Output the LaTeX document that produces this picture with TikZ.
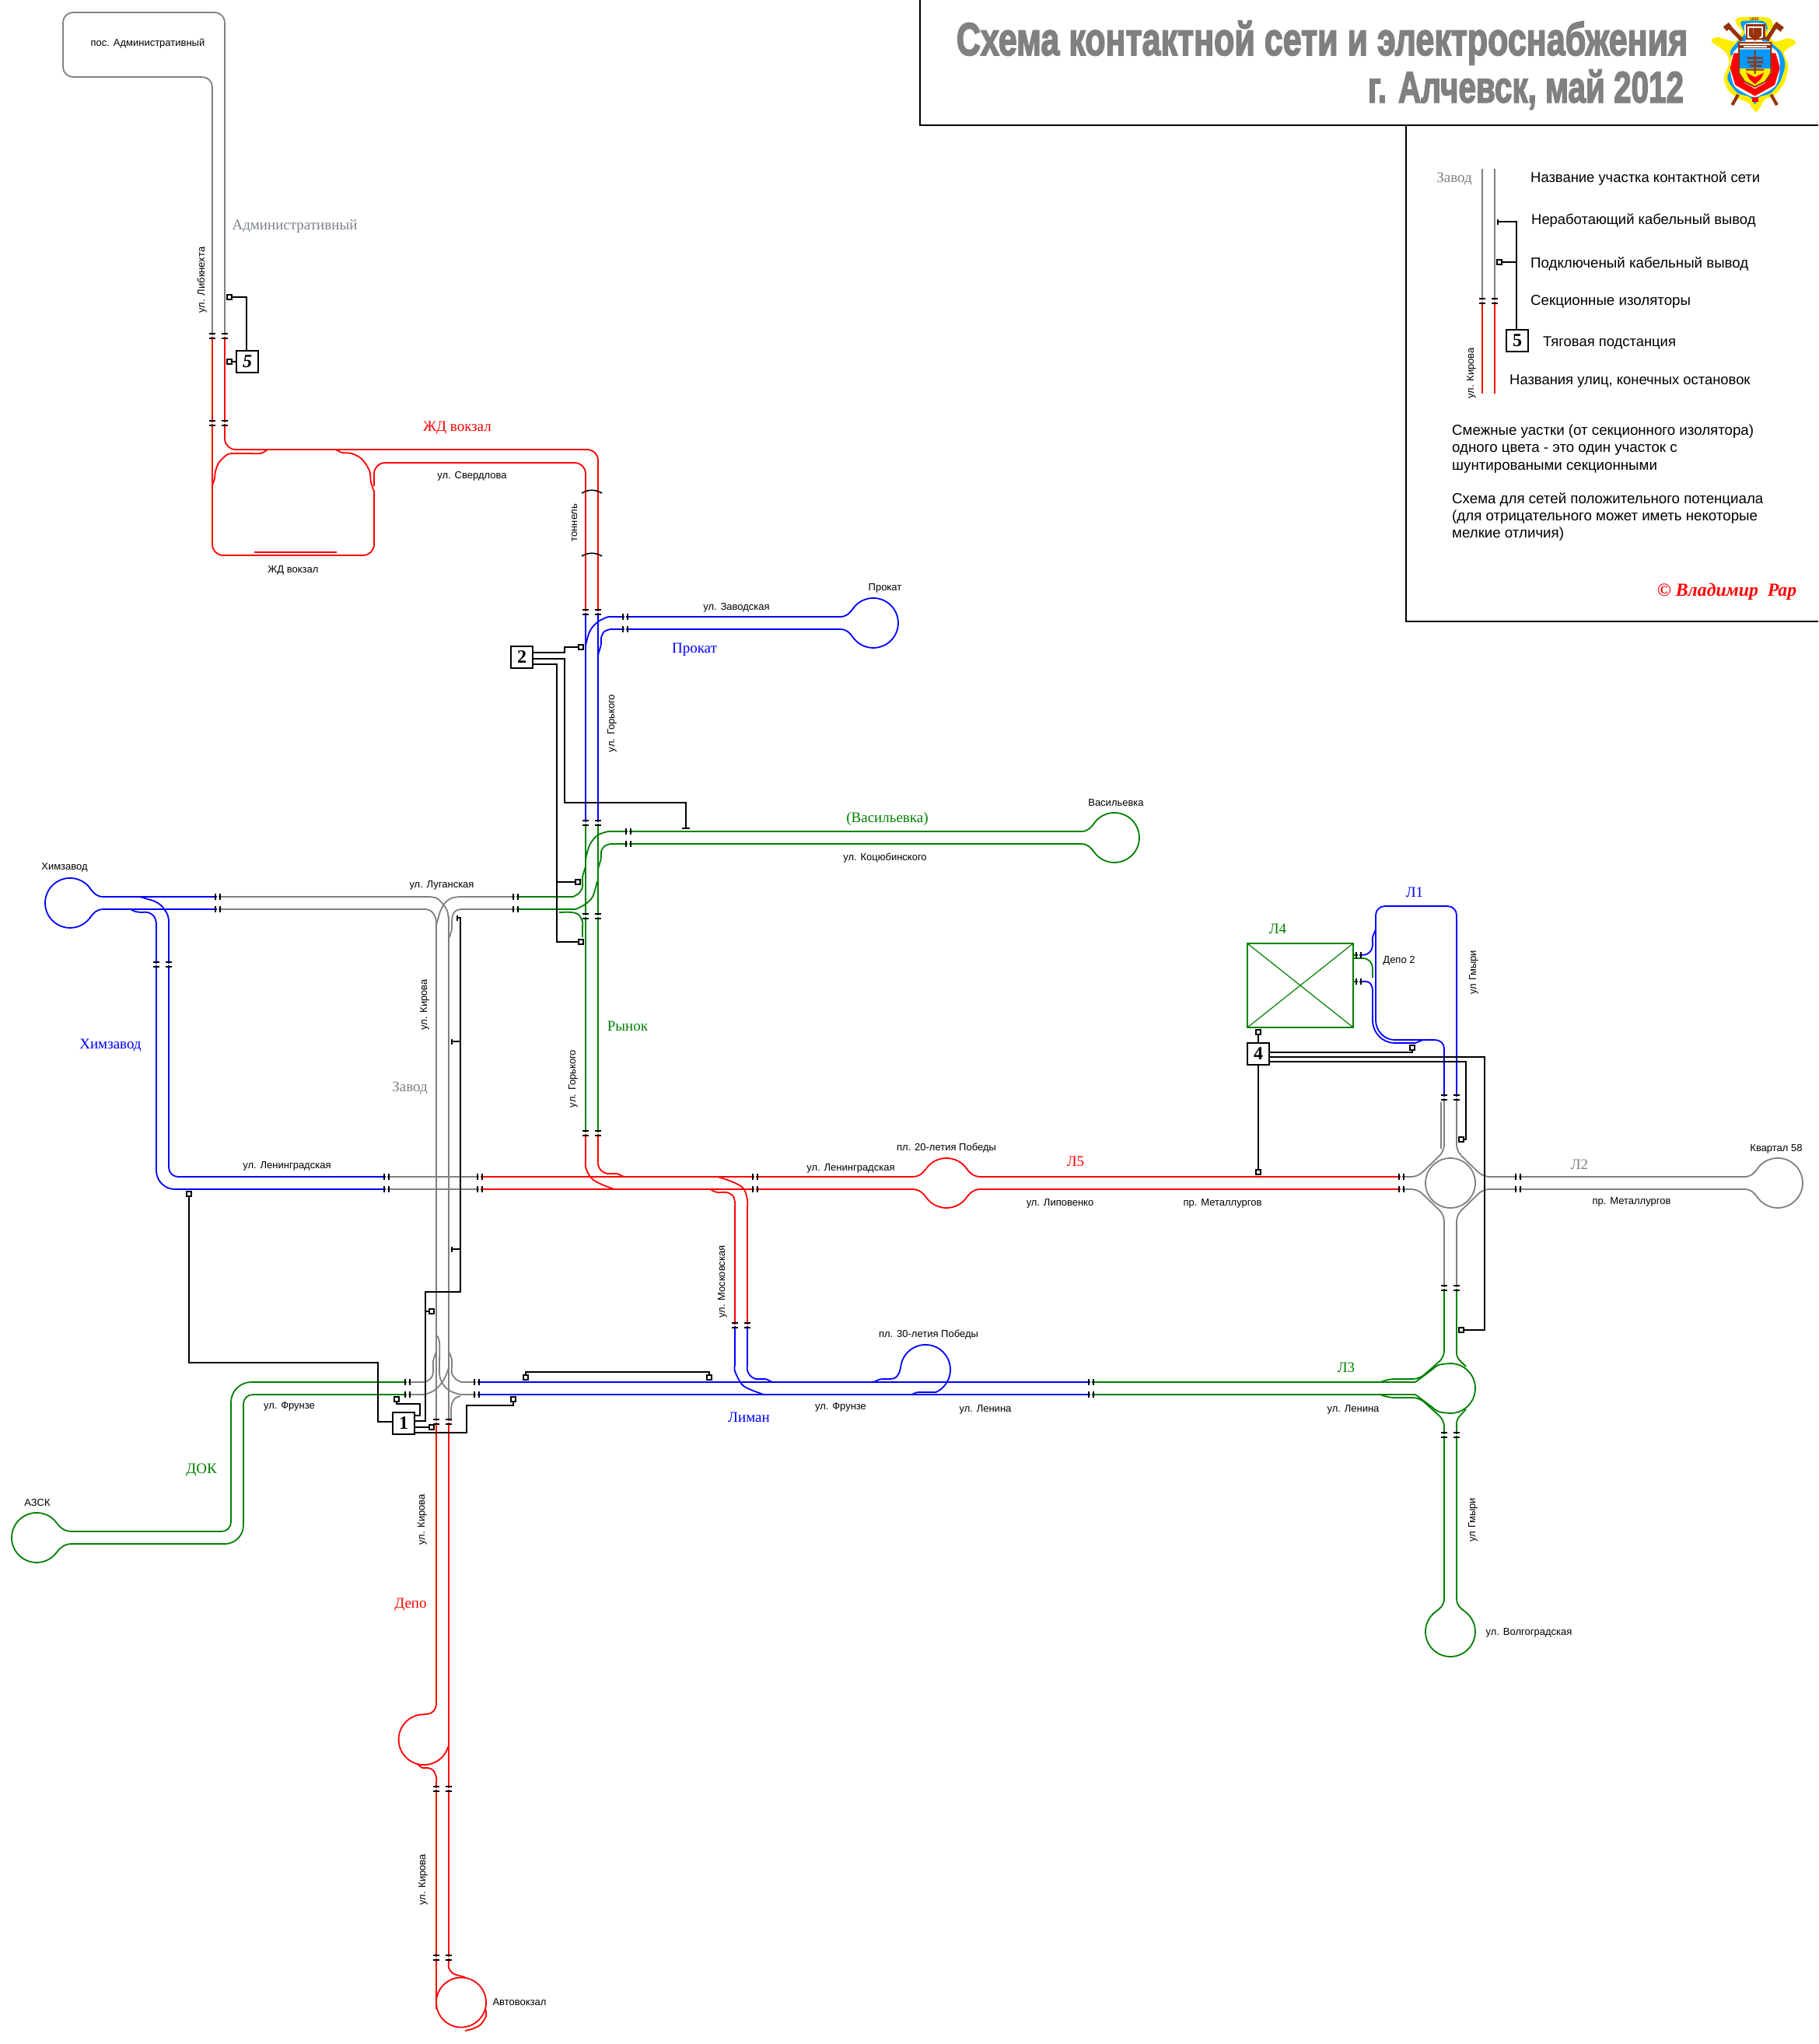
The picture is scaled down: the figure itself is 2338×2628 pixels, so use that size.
\documentclass[tikz,border=0pt]{standalone}
\usepackage{fontspec}
\usepackage{graphicx}
\setmainfont{Liberation Sans}
\newfontfamily\serf{Liberation Serif}
\newfontfamily\ttlfont[FakeBold=3.2]{Liberation Sans}
\definecolor{tR}{RGB}{255,0,0}
\definecolor{tB}{RGB}{0,0,255}
\definecolor{tG}{RGB}{0,128,0}
\definecolor{tK}{RGB}{128,128,128}
\definecolor{brn}{RGB}{150,50,10}
\definecolor{skyb}{RGB}{0,153,255}
\definecolor{slat}{RGB}{125,130,145}
\tikzset{
 tr/.style={line width=1.8pt,line join=round},
 trR/.style={tr,draw=tR},trB/.style={tr,draw=tB},trG/.style={tr,draw=tG},trK/.style={tr,draw=tK},
 wire/.style={line width=1.7pt,draw=black,line join=miter},
 term/.style={draw=black,fill=white,line width=1.7pt,minimum size=6pt,inner sep=0pt,outer sep=0pt,rectangle},
 subst/.style={draw=black,fill=white,line width=2pt,minimum width=28pt,minimum height=28pt,inner sep=0pt,outer sep=0pt,font=\serf\bfseries\fontsize{24}{24}\selectfont},
 lbl/.style={inner sep=0pt,font=\fontsize{13}{13}\selectfont,text height=12pt,text depth=2pt},
 sec/.style={inner sep=0pt,font=\serf\fontsize{19}{19}\selectfont,text height=16pt,text depth=2.6pt},
 leg/.style={inner sep=0pt,anchor=west,font=\fontsize{18.4}{18.4}\selectfont,text height=15pt,text depth=2.6pt},
 legp/.style={leg,font=\fontsize{18.7}{18.7}\selectfont},
 iso/.style={line width=2pt,draw=black},
}
\newcommand\cvv[2]{\draw[#1] plot[smooth,tension=0.55] coordinates {#2};}
\newcommand\isoV[2]{\fill[white] ({#1-2},{#2-1.4}) rectangle ({#1+2},{#2+1.4});\draw[iso] ({#1-3.6},{#2-2.6}) -- ({#1+3.6},{#2-2.6}) ({#1-3.6},{#2+2.6}) -- ({#1+3.6},{#2+2.6});}
\newcommand\isoH[2]{\fill[white] ({#1-1.4},{#2-2}) rectangle ({#1+1.4},{#2+2});\draw[iso] ({#1-2.6},{#2-3.6}) -- ({#1-2.6},{#2+3.6}) ({#1+2.6},{#2-3.6}) -- ({#1+2.6},{#2+3.6});}
\newcommand\tickV[2]{\draw[wire] (#1,{#2-3.5}) -- (#1,{#2+3.5});}
\newcommand\balR[2]{-- ({#1-43},{#2-8}) .. controls ({#1-34},{#2-8}) and ({#1-30},{#2-13}) .. ({#1-25.6},{#2-19.3}) arc[start angle=-143,end angle=143,radius=32] .. controls ({#1-30},{#2+13}) and ({#1-34},{#2+8}) .. ({#1-43},{#2+8})}
\newcommand\balL[2]{-- ({#1+43},{#2-8}) .. controls ({#1+34},{#2-8}) and ({#1+30},{#2-13}) .. ({#1+25.6},{#2-19.3}) arc[start angle=-37,end angle=-323,radius=32] .. controls ({#1+30},{#2+13}) and ({#1+34},{#2+8}) .. ({#1+43},{#2+8})}
\newcommand\balU[2]{-- ({#1-8},{#2-43}) .. controls ({#1-8},{#2-34}) and ({#1-13},{#2-30}) .. ({#1-19.3},{#2-25.6}) arc[start angle=-127,end angle=-413,radius=32] .. controls ({#1+13},{#2-30}) and ({#1+8},{#2-34}) .. ({#1+8},{#2-43})}
\begin{document}
\begin{tikzpicture}[x=1pt,y=1pt,yscale=-1]
\useasboundingbox (0,0) rectangle (2338,2628);
\fill[white] (0,0) rectangle (2338,2628);

% frames
\draw[line width=2pt] (1183,0) -- (1183,161) -- (2338,161);
\draw[line width=2pt] (1808,161) -- (1808,799) -- (2338,799);

% title
\node[inner sep=0pt,text=tK] (ttl1) at (1700,55) {\resizebox{940pt}{44pt}{\ttlfont\bfseries Схема контактной сети и электроснабжения}};
\node[inner sep=0pt,text=tK] (ttl2) at (1962,115) {\resizebox{406pt}{42pt}{\ttlfont\bfseries г. Алчевск, май 2012}};

% coat of arms
\begin{scope}[shift={(2190,10)},scale=0.3333]
\fill[yellow!95!orange] plot[smooth cycle,tension=0.5] coordinates {(135,38)(250,38)(270,70)(250,95)(275,130)(330,118)(358,135)(312,172)(328,222)(312,292)(270,342)(240,352)(205,402)(175,367)(128,347)(93,312)(80,270)(100,212)(85,170)(33,130)(55,113)(125,130)(150,90)(130,65)};
\fill[skyb] plot[smooth cycle,tension=0.5] coordinates {(150,52)(232,52)(248,80)(236,102)(268,140)(302,172)(316,222)(296,286)(260,330)(216,344)(200,372)(180,344)(135,330)(105,296)(94,266)(116,210)(104,170)(125,140)(160,100)(150,75)};
\fill[white] plot[smooth cycle,tension=0.5] coordinates {(165,62)(235,62)(240,100)(225,125)(285,170)(296,230)(280,300)(225,335)(200,345)(170,335)(120,300)(104,230)(118,170)(165,125)(160,95)};
\fill[tR] (118,175) -- (280,175) -- (296,232) -- (276,298) -- (200,340) -- (124,298) -- (104,232) -- cycle;
\fill[white] (140,130) -- (260,130) -- (265,250) -- (240,290) -- (200,312) -- (160,290) -- (135,250) -- cycle;
\fill[skyb] (140,160) -- (262,160) -- (262,235) -- (138,235) -- cycle;
\fill[yellow!95!orange] (138,235) -- (262,235) -- (262,252) -- (240,285) -- (200,305) -- (160,285) -- (138,252) -- cycle;
\draw[brn,line width=2pt] (138,135) -- (262,135) -- (262,252) -- (240,285) -- (200,305) -- (160,285) -- (138,252) -- cycle;
\fill[brn] (140,143) rectangle (260,157);
\fill[white] (155,147) rectangle (245,153);
\fill[tR] (165,250) -- (200,268) -- (235,250) -- (222,275) -- (200,295) -- (178,275) -- cycle;
\fill[brn] (197,165) rectangle (203,255) (170,190) rectangle (230,198) (170,206) rectangle (232,214) (180,220) rectangle (225,228) (165,236) rectangle (235,242);
\draw[brn,line width=2.5pt] (168,68) rectangle (235,120);
\draw[brn,line width=5pt] (185,78) -- (185,105) -- (201,118) -- (217,105) -- (217,78) (201,78) -- (201,118);
\draw[brn,line width=5pt] (95,68) -- (150,125) (280,70) -- (245,125);
\draw[brn,line width=7pt] (84,82) -- (105,65) (276,62) -- (305,84);
\draw[brn,line width=4pt] (135,335) -- (112,375) (262,335) -- (285,375);
\fill[tR] (190,345) rectangle (212,362);
\node[inner sep=0pt,text=brn,font=\bfseries\fontsize{5.5}{5.5}\selectfont] (coat) at (197,45) {1896};
\end{scope}

% ---------- Administrative and station section
\draw[trK,rounded corners=13] (273,432) -- (273,99) -- (81,99) -- (81,16) -- (289,16) -- (289,432);
\draw[trR,rounded corners=14] (273,432) -- (273,714) -- (481,714) -- (481,630);
\draw[trR,rounded corners=14] (289,432) -- (289,578) -- (769,578) -- (769,787);
\draw[trR,rounded corners=14] (481,625) -- (481,595) -- (753,595) -- (753,787);
\cvv{trR}{(273,624)(276,615)(277,606)(282,594)(293,584)(303,583)(320,583)(335,583)(344,578)}
\cvv{trR}{(432,578)(440,582)(452,583)(465,590)(475,605)(477,620)(481,632)}
\draw[trR] (327,710) -- (433,710);
% tunnel
\draw[line width=1.6pt] (748,634) .. controls (757,629) and (765,629) .. (774,634);
\draw[line width=1.6pt] (748,715) .. controls (757,710) and (765,710) .. (774,715);

% ---------- Gorky street
\draw[trB] (753,787) -- (753,1058) (769,787) -- (769,1058);
\draw[trG] (753,1058) -- (753,1457) (769,1058) -- (769,1457);
% Prokat
\draw[trB] (782,793) \balR{1123}{801} -- (785,809);
\cvv{trB}{(753,830)(757,815)(762,806)(771,798)(782,793)}
\cvv{trB}{(769,842)(773,828)(773,820)(777,812)(785,809)}
% Vasilievka
\draw[trG] (782,1069) \balR{1433}{1077} -- (785,1085);
\cvv{trG}{(753,1105)(758,1087)(768,1074)(782,1069)}
\cvv{trG}{(769,1117)(773,1103)(773,1095)(777,1088)(785,1085)}
\draw[trG] (663,1153) -- (737,1153) (663,1169) -- (740,1169);
\cvv{trG}{(737,1153)(745,1148)(749,1140)(749,1128)(753,1114)}
\cvv{trG}{(740,1169)(752,1163)(762,1153)(768,1133)}
\cvv{trG}{(719,1173)(735,1173)(744,1176)(749,1185)(749,1192)}
\draw[trG] (749,1190) -- (749,1205);

% ---------- Lugansk street, Zavod
\draw[trK] (280,1153) -- (552,1153) (280,1169) -- (548,1169) (590,1153) -- (663,1153) (593,1169) -- (663,1169);
\draw[trK] (577,1178) -- (577,1828) (561,1187) -- (561,1828);
\cvv{trK}{(552,1153)(562,1155)(570,1163)(575,1171)(577,1182)}
\cvv{trK}{(548,1169)(555,1172)(560,1180)(561,1190)}
\cvv{trK}{(590,1153)(580,1155)(572,1161)(566,1172)(561,1190)}
\cvv{trK}{(593,1169)(586,1171)(582,1177)(581,1188)(581,1195)(577,1207)}
% lower junction
\cvv{trK}{(547,1777)(554,1772)(557,1765)(557,1750)(561,1738)}
\cvv{trK}{(546,1793)(558,1788)(568,1778)(574,1767)(577,1758)}
\cvv{trK}{(593,1777)(586,1773)(581,1765)(581,1748)(577,1738)}
\cvv{trK}{(592,1793)(580,1789)(572,1783)(566,1772)(565,1760)(565,1725)(561,1717)}
\cvv{trK}{(592,1795)(585,1798)(581,1805)(580,1813)(580,1827)}
\draw[trK] (524,1777) -- (547,1777) (524,1793) -- (546,1793) (593,1777) -- (613,1777) (592,1793) -- (613,1793);

% ---------- Khimzavod
\draw[trB] (280,1153) \balL{90}{1161} -- (280,1169);
\cvv{trB}{(180,1153)(190,1156)(197,1158)(207,1164)(215,1175)(217,1184)}
\cvv{trB}{(168,1169)(174,1172)(182,1173)(190,1173)(198,1178)(201,1187)}
\draw[trB,rounded corners=12] (217,1182) -- (217,1513) -- (497,1513);
\draw[trB,rounded corners=24] (201,1185) -- (201,1529) -- (497,1529);
\draw[trK] (497,1513) -- (617,1513) (497,1529) -- (617,1529);

% ---------- L5 red main
\draw[trR] (617,1513) -- (1173,1513) .. controls (1183,1513) and (1188,1507) .. (1193.2,1499.6) arc[start angle=-138,end angle=-42,radius=32] .. controls (1246,1507) and (1251,1513) .. (1261,1513) -- (1802,1513);
\draw[trR] (617,1529) -- (1173,1529) .. controls (1183,1529) and (1188,1535) .. (1193.2,1542.4) arc[start angle=138,end angle=42,radius=32] .. controls (1246,1535) and (1251,1529) .. (1261,1529) -- (1802,1529);
\cvv{trR}{(769,1457)(769,1490)(769,1497)(773,1505)(781,1509)(793,1509)(802,1513)}
\cvv{trR}{(753,1457)(753,1490)(753,1500)(757,1510)(763,1517)(774,1523)(790,1529)}
\cvv{trR}{(923,1513)(943,1520)(956,1528)(961,1542)(961,1552)}
\cvv{trR}{(913,1529)(922,1533)(934,1533)(942,1537)(945,1545)(945,1552)}
\draw[trR] (961,1550) -- (961,1704) (945,1550) -- (945,1704);

% ---------- Liman
\draw[trB] (945,1704) -- (945,1755) (961,1704) -- (961,1755);
\cvv{trB}{(945,1755)(945,1763)(954,1780)(966,1787)(982,1793)}
\cvv{trB}{(961,1755)(961,1762)(965,1769)(972,1773)(984,1773)(993,1777)}
\draw[trB] (613,1777) -- (1403,1777) (613,1793) -- (1403,1793);
\draw[trB] (1123,1777) .. controls (1128,1775) and (1130,1773) .. (1136,1773) -- (1145,1773) .. controls (1152,1773) and (1157,1768) .. (1158.5,1755.4) arc[start angle=-170,end angle=65,radius=32] -- (1182,1790) .. controls (1178,1790) and (1176,1791) .. (1173,1793);
% DOK
\draw[trG,rounded corners=12] (90,1969) -- (297,1969) -- (297,1900);
\draw[trG,rounded corners=26] (297,1920) -- (297,1777) -- (524,1777);
\draw[trG,rounded corners=24] (90,1985) -- (313,1985) -- (313,1900);
\draw[trG,rounded corners=12] (313,1920) -- (313,1793) -- (524,1793);
\draw[trG] (92,1969) .. controls (83,1969) and (77,1964) .. (72.6,1957.7) arc[start angle=-37,end angle=-323,radius=32] .. controls (77,1990) and (83,1985) .. (92,1985);

% ---------- Depo, Avtovokzal
\draw[trR] (577,1828) -- (577,2525);
\draw[trR] (561,1828) -- (561,2190) .. controls (561,2199) and (555,2204) .. (548,2204) -- (540,2204.5) arc[start angle=-99,end angle=-344,radius=32.5];
\cvv{trR}{(537,2268)(543,2273)(550,2273)(557,2276)(561,2285)(561,2292)}
\draw[trR] (561,2290) -- (561,2583);
\draw[trR] (593,2574.5) circle[radius=32];
\cvv{trR}{(577,2522)(577,2530)(582,2537)(590,2540)(598,2542)}
\cvv{trR}{(624,2582)(625,2592)(618,2603)(609,2608)(598,2611)}

% ---------- right side
\draw[trK,rounded corners=8] (1802,1513) -- (1823,1513) -- (1857,1480) -- (1857,1411);
\draw[trK,rounded corners=8] (1802,1529) -- (1823,1529) -- (1857,1562) -- (1857,1656);
\draw[trK,rounded corners=8] (1952,1513) -- (1907,1513) -- (1873,1480) -- (1873,1411);
\draw[trK,rounded corners=8] (1952,1529) -- (1907,1529) -- (1873,1562) -- (1873,1656);
\draw[trK] (1865,1521) circle[radius=32];
\draw[trK] (1853,1417) -- (1853,1477);
\draw[trK] (1952,1513) \balR{2286}{1521} -- (1952,1529);
% L3 junction
\draw[trG] (1403,1777) -- (1820,1777) (1403,1793) -- (1820,1793);
\draw[trG,rounded corners=8] (1857,1656) -- (1857,1745) -- (1825,1773) -- (1785,1773) -- (1775,1777);
\draw[trG,rounded corners=8] (1775,1793) -- (1785,1797) -- (1825,1797) -- (1857,1826) -- (1857,1845);
\draw[trG,rounded corners=5] (1873,1656) -- (1873,1745) -- (1885,1757);
\draw[trG,rounded corners=5] (1873,1845) -- (1873,1825) -- (1885,1812);
\draw[trG] (1865,1753) arc[start angle=-90,end angle=90,radius=32];
\cvv{trG}{(1820,1777)(1832,1768)(1840,1762)(1850,1755)(1865,1753)}
\cvv{trG}{(1820,1793)(1832,1802)(1840,1808)(1850,1815)(1865,1817)}
\draw[trG] (1857,1845) \balU{1865}{2098} -- (1873,1845);
% Depo 2
\draw[trB] (1857,1411) -- (1857,1348) .. controls (1857,1341) and (1851,1337) .. (1845,1337) -- (1793,1337) .. controls (1780,1337) and (1769,1325) .. (1769,1312) -- (1769,1177) .. controls (1769,1170) and (1774,1165) .. (1781,1165) -- (1861,1165) .. controls (1868,1165) and (1873,1170) .. (1873,1177) -- (1873,1411);
\draw[trB] (1747,1262) -- (1757,1262) .. controls (1762,1262) and (1765,1268) .. (1765,1273) -- (1765,1312) .. controls (1765,1328) and (1778,1341) .. (1793,1341) -- (1820,1341) -- (1830,1337);
\cvv{trB}{(1747,1228)(1757,1227)(1763,1222)(1765,1215)(1765,1205)(1769,1195)}
\draw[trG] (1741,1232) -- (1752,1232) .. controls (1760,1232) and (1765,1238) .. (1765,1245) -- (1765,1257);
\draw[trG] (1740,1228) -- (1747,1228) (1740,1262) -- (1747,1262);
\draw[tG,line width=2pt] (1604,1213) rectangle (1740,1321);
\draw[tG,line width=1.2pt] (1604,1213) -- (1740,1321) (1604,1321) -- (1740,1213);

% ---------- isolators
\foreach \a/\b in {273/432,289/432,273/544,289/544,753/787,769/787,753/1058,769/1058,753/1178,769/1178,753/1457,769/1457,217/1240,201/1240,945/1704,961/1704,561/1828,577/1828,561/2300,577/2300,561/2517,577/2517,1857/1411,1873/1411,1857/1656,1873/1656,1857/1845,1873/1845}{\isoV{\a}{\b}}
\foreach \a/\b in {804/793,804/809,808/1069,808/1085,663/1153,663/1169,280/1153,280/1169,497/1513,497/1529,617/1513,617/1529,971/1513,971/1529,1802/1513,1802/1529,1952/1513,1952/1529,524/1777,524/1793,613/1777,613/1793,1403/1777,1403/1793,1747/1228,1747/1262}{\isoH{\a}{\b}}

% ---------- substations and feeders
\node[subst] (s1) at (519,1830) {1};
\node[subst] (s2) at (671,845) {2};
\node[subst] (s4) at (1618,1355) {4};
\node[subst,font=\serf\bfseries\itshape\fontsize{24}{24}\selectfont] (s5) at (318,464.5) {5};
\node[term] (t5a) at (295,382) {};
\node[term] (t5b) at (295,465) {};
\draw[wire] (t5a) -- (317,382) -- (s5.north -| 317,0);
\draw[wire] (t5b) -- (s5.west |- 0,465);

\node[term] (t2a) at (747,832) {};
\node[term] (t2b) at (743,1134) {};
\node[term] (t2c) at (747,1211) {};
\coordinate (d2) at (882,1065);
\draw[wire] (s2.east |- 0,839) -- (726,839) -- (726,832) -- (t2a);
\draw[wire] (s2.east |- 0,847) -- (726,847) -- (726,1032) -- (882,1032) -- (d2);
\draw[wire] (877,1065) -- (887,1065);
\draw[wire] (s2.east |- 0,854) -- (716,854) -- (716,1211) -- (t2c);
\draw[wire] (716,1134) -- (t2b);

\node[term] (t1a) at (555,1686) {};
\node[term] (t1b) at (510,1799) {};
\node[term] (t1c) at (555,1835) {};
\node[term] (t1d) at (660,1799) {};
\node[term] (t1e) at (243,1535) {};
\node[term] (t1f) at (676,1771) {};
\node[term] (t1g) at (912,1771) {};
\coordinate (d1) at (588,1180);
\coordinate (d1b) at (581,1339);
\coordinate (d1c) at (581,1606);
\draw[wire] (s1.east |- 0,1820) -- (540,1820) -- (540,1805) -- (510,1805) -- (t1b);
\draw[wire] (s1.east |- 0,1827) -- (547,1827) -- (547,1661) -- (592,1661) -- (592,1180) -- (d1);
\tickV{588}{1180}
\draw[wire] (592,1339) -- (d1b);
\tickV{581}{1339}
\draw[wire] (592,1606) -- (d1c);
\tickV{581}{1606}
\draw[wire] (547,1686) -- (t1a);
\draw[wire] (s1.east |- 0,1835) -- (t1c);
\draw[wire] (s1.east |- 0,1842) -- (600,1842) -- (600,1807) -- (660,1807) -- (t1d);
\draw[wire] (s1.west |- 0,1828) -- (486,1828) -- (486,1752) -- (243,1752) -- (t1e);
\draw[wire] (t1f) -- (676,1764) -- (912,1764) -- (t1g);

\node[term] (t4a) at (1618,1327) {};
\node[term] (t4b) at (1618,1507) {};
\node[term] (t4c) at (1816,1347) {};
\node[term] (t4d) at (1879,1710) {};
\node[term] (t4e) at (1879,1465) {};
\draw[wire] (t4a) -- (s4.north);
\draw[wire] (s4.south) -- (t4b);
\draw[wire] (s4.east |- 0,1353) -- (1816,1353) -- (t4c);
\draw[wire] (s4.east |- 0,1359) -- (1909,1359) -- (1909,1710) -- (t4d);
\draw[wire] (s4.east |- 0,1365) -- (1885,1365) -- (1885,1465) -- (t4e);

% ---------- legend
\draw[trK] (1906,217) -- (1906,387) (1922,217) -- (1922,387);
\draw[trR] (1906,387) -- (1906,506) (1922,387) -- (1922,506);
\isoV{1906}{387}\isoV{1922}{387}
\node[subst,font=\serf\bfseries\fontsize{24}{24}\selectfont] (s6) at (1951,438) {5};
\node[term] (t6) at (1928,337) {};
\coordinate (d6) at (1926,285);
\draw[wire] (d6) -- (1950,285) -- (s6.north -| 1950,0);
\tickV{1926}{285}
\draw[wire] (t6) -- (1950,337);
\node[sec,text=tK,font=\serf\fontsize{19}{19}\selectfont] (g1) at (1870,228) {Завод};
\node[lbl,rotate=90] (g2) at (1890,480) {ул. Кирова};
\node[leg] (g3) at (1968,228) {Название участка контактной сети};
\node[leg] (g4) at (1969,282) {Неработающий кабельный вывод};
\node[legp] (g5) at (1968,338) {Подключеный кабельный вывод};
\node[legp] (g6) at (1968,386) {Секционные изоляторы};
\node[leg] (g7) at (1984,439) {Тяговая подстанция};
\node[leg] (g8) at (1941,488) {Названия улиц, конечных остановок};
\node[legp] (g9) at (1867,553) {Смежные уастки (от секционного изолятора)};
\node[legp] (g10) at (1867,575) {одного цвета - это один участок с};
\node[legp] (g11) at (1867,598) {шунтироваными секционными};
\node[legp] (g12) at (1867,641) {Схема для сетей положительного потенциала};
\node[legp] (g13) at (1867,663) {(для отрицательного может иметь некоторые};
\node[legp] (g14) at (1867,685) {мелкие отличия)};
\node[inner sep=0pt,anchor=west,text=tR,font=\serf\bfseries\itshape\fontsize{20}{20}\selectfont] (g15) at (2131,761) {\resizebox{179pt}{!}{© Владимир\ \ Рар}};

% ---------- labels
\node[lbl] (a1) at (190,55) {пос. Административный};
\node[sec,text=slat] (a2) at (379,289) {Административный};
\node[lbl,rotate=90] (a3) at (258,360) {ул. Либкнехта};
\node[sec,text=tR] (a4) at (588,548) {ЖД вокзал};
\node[lbl] (a5) at (607,610) {ул. Свердлова};
\node[lbl] (a6) at (377,731) {ЖД вокзал};
\node[lbl,rotate=90] (a7) at (737,672) {тоннель};
\node[lbl] (a8) at (947,779) {ул. Заводская};
\node[lbl] (a9) at (1138,754) {Прокат};
\node[sec,text=tB] (a10) at (893,833) {Прокат};
\node[lbl,rotate=90] (a11) at (785,930) {ул. Горького};
\node[sec,text=tG] (a12) at (1141,1051) {(Васильевка)};
\node[lbl] (a13) at (1435,1031) {Васильевка};
\node[lbl] (a14) at (1138,1101) {ул. Коцюбинского};
\node[lbl] (a15) at (83,1113) {Химзавод};
\node[lbl] (a16) at (568,1136) {ул. Луганская};
\node[lbl,rotate=90] (a17) at (544,1292) {ул. Кирова};
\node[sec,text=tK] (a18) at (527,1397) {Завод};
\node[sec,text=tG] (a19) at (807,1319) {Рынок};
\node[lbl,rotate=90] (a20) at (735,1387) {ул. Горького};
\node[sec,text=tB] (a21) at (142,1342) {Химзавод};
\node[lbl] (a22) at (369,1497) {ул. Ленинградская};
\node[lbl] (a23) at (1094,1500) {ул. Ленинградская};
\node[lbl] (a24) at (1217,1474) {пл. 20-летия Победы};
\node[sec,text=tR] (a25) at (1383,1493) {Л5};
\node[lbl] (a26) at (1363,1545) {ул. Липовенко};
\node[lbl] (a27) at (1572,1545) {пр. Металлургов};
\node[sec,text=tK] (a28) at (2031,1497) {Л2};
\node[lbl] (a29) at (2098,1543) {пр. Металлургов};
\node[lbl] (a30) at (2284,1475) {Квартал 58};
\node[lbl,rotate=90] (a31) at (927,1648) {ул. Московская};
\node[lbl] (a32) at (1194,1714) {пл. 30-летия Победы};
\node[sec,text=tB] (a33) at (963,1822) {Лиман};
\node[lbl] (a34) at (1081,1807) {ул. Фрунзе};
\node[lbl] (a35) at (1267,1810) {ул. Ленина};
\node[sec,text=tG] (a36) at (1731,1758) {Л3};
\node[lbl] (a37) at (1740,1810) {ул. Ленина};
\node[lbl] (a38) at (372,1806) {ул. Фрунзе};
\node[sec,text=tG] (a39) at (259,1888) {ДОК};
\node[lbl] (a40) at (48,1931) {АЗСК};
\node[lbl,rotate=90] (a41) at (541,1954) {ул. Кирова};
\node[sec,text=tR] (a42) at (528,2061) {Депо};
\node[lbl,rotate=90] (a43) at (542,2417) {ул. Кирова};
\node[lbl] (a44) at (668,2573) {Автовокзал};
\node[lbl,rotate=90] (a45) at (1892,1954) {ул Гмыри};
\node[lbl] (a46) at (1966,2097) {ул. Волгоградская};
\node[sec,text=tG] (a47) at (1643,1194) {Л4};
\node[sec,text=tB] (a48) at (1819,1147) {Л1};
\node[lbl] (a49) at (1799,1233) {Депо 2};
\node[lbl,rotate=90] (a50) at (1893,1250) {ул Гмыри};
\end{tikzpicture}
\end{document}
